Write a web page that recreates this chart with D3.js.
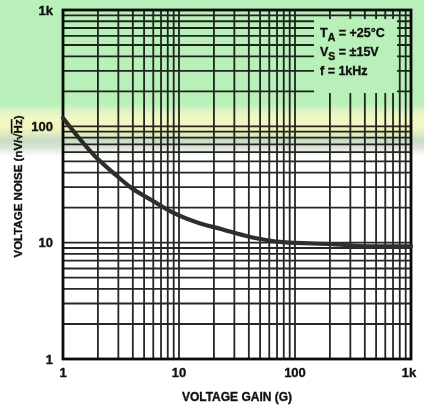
<!DOCTYPE html>
<html>
<head>
<meta charset="utf-8">
<script src="https://cdn.jsdelivr.net/npm/d3@7"></script>
<style>
  html, body { margin: 0; padding: 0; background: #fff; }
  svg { display: block; }
  text { font-family: "Liberation Sans", Arial, Helvetica, sans-serif; font-weight: bold; fill: #111; stroke: #111; stroke-width: 0.35px; }
</style>
</head>
<body>
<svg id="chart" width="424" height="406"></svg>
<script>
// Voltage noise vs. voltage gain
const gain  = [1, 1.35, 1.9, 2.7, 3.9, 5.9, 8.7, 15, 23, 41, 79, 210, 420, 1000];
const noise = [118, 81, 55, 40, 29.5, 23, 18.3, 14.7, 13.1, 11.2, 10.1, 9.7, 9.3, 9.3];

const xTickValues = [1, 10, 100, 1000];
const xTickLabels = ["1", "10", "100", "1k"];
const yTickValues = [1, 10, 100, 1000];
const yTickLabels = ["1", "10", "100", "1k"];

const conditions = [
  { main: "T", sub: "A", rest: " = +25°C" },
  { main: "V", sub: "S", rest: " = ±15V" },
  { main: "f", sub: "", rest: " = 1kHz" }
];

const W = 424, H = 406;
const margin = { left: 63, right: 13, top: 10, bottom: 47 };
const x0 = margin.left, x1 = W - margin.right;
const y0 = H - margin.bottom, y1 = margin.top;

const svg = d3.select("#chart");
const x = d3.scaleLog().domain([1, 1000]).range([x0, x1]);
const y = d3.scaleLog().domain([1, 1000]).range([y0, y1]);

// every 1..9 step of each decade
const gridVals = [];
[1, 10, 100].forEach(d => { for (let k = 1; k <= 9; k++) gridVals.push(d * k); });
gridVals.push(1000);

svg.append("rect").attr("width", W).attr("height", H).attr("fill", "#fff");

const defs = svg.append("defs");
// legend window: grid is left out behind the condition text
defs.append("mask").attr("id", "legendHole")
  .call(m => {
    m.append("rect").attr("x", 0).attr("y", 0).attr("width", W).attr("height", H).attr("fill", "#fff");
    m.append("rect").attr("x", 314).attr("y", 19).attr("width", 83).attr("height", 74).attr("fill", "#000");
  });

const grid = svg.append("g").attr("mask", "url(#legendHole)")
  .attr("stroke", "#262626").attr("stroke-width", 1.8);

grid.selectAll("line.v").data(gridVals).join("line")
  .attr("class", "v")
  .attr("x1", d => x(d)).attr("x2", d => x(d))
  .attr("y1", y0).attr("y2", y1);

grid.selectAll("line.h").data(gridVals).join("line")
  .attr("class", "h")
  .attr("y1", d => y(d)).attr("y2", d => y(d))
  .attr("x1", x0).attr("x2", x1);

// frame
svg.append("rect")
  .attr("x", x0).attr("y", y1)
  .attr("width", x1 - x0).attr("height", y0 - y1)
  .attr("fill", "none").attr("stroke", "#0a0a0a").attr("stroke-width", 2.8);

// noise curve
const pts = gain.map((g, i) => [g, noise[i]]);
svg.append("path")
  .datum(pts)
  .attr("fill", "none")
  .attr("stroke", "#2e2e2e")
  .attr("stroke-width", 4.2)
  .attr("stroke-linecap", "round")
  .attr("d", d3.line().x(d => x(d[0])).y(d => y(d[1])).curve(d3.curveMonotoneX));

// y tick labels
svg.append("g").selectAll("text").data(yTickValues).join("text")
  .attr("x", x0 - 10)
  .attr("y", d => y(d))
  .attr("dy", "0.36em")
  .attr("text-anchor", "end")
  .attr("font-size", 13)
  .text((d, i) => yTickLabels[i]);

// x tick labels
svg.append("g").selectAll("text").data(xTickValues).join("text")
  .attr("x", d => x(d) - (d === 1000 ? 2 : 0))
  .attr("y", y0 + 18)
  .attr("text-anchor", "middle")
  .attr("font-size", 13)
  .text((d, i) => xTickLabels[i]);

// axis titles
svg.append("text")
  .attr("x", (x0 + x1) / 2)
  .attr("y", 401)
  .attr("text-anchor", "middle")
  .attr("font-size", 12)
  .text("VOLTAGE GAIN (G)");

const yt = svg.append("text")
  .attr("transform", `translate(22,${(y0 + y1) / 2 + 2}) rotate(-90)`)
  .attr("text-anchor", "middle")
  .attr("font-size", 11.5);
yt.append("tspan").text("VOLTAGE NOISE (nV/√");
yt.append("tspan").attr("text-decoration", "overline").text("Hz");
yt.append("tspan").text(")");

// test conditions
const cond = svg.append("g").selectAll("text").data(conditions).join("text")
  .attr("x", 320)
  .attr("y", (d, i) => 37 + i * 19)
  .attr("font-size", 12.5);
cond.append("tspan").text(d => d.main);
cond.append("tspan").attr("dy", 4).attr("font-size", 10.5).text(d => d.sub);
cond.append("tspan").attr("dy", d => d.sub ? -4 : 0).text(d => d.rest);

// tinted paper: green top, a pale yellow band, then white
const grad = defs.append("linearGradient").attr("id", "paper")
  .attr("gradientUnits", "userSpaceOnUse")
  .attr("x1", 0).attr("y1", 0).attr("x2", 0).attr("y2", H);
[
  [0, "#b9f0b9"], [104, "#b9f0b9"], [111, "#dcf4c4"], [118, "#f2f8c6"], [127, "#f0f7bc"],
  [134, "#dfecbe"], [140, "#c8dbc4"], [148, "#dce5da"], [156, "#ffffff"], [H, "#ffffff"]
].forEach(([p, c]) => grad.append("stop").attr("offset", p / H).attr("stop-color", c));

svg.append("rect").attr("width", W).attr("height", H)
  .attr("fill", "url(#paper)")
  .style("mix-blend-mode", "multiply")
  .style("pointer-events", "none");
</script>
</body>
</html>
